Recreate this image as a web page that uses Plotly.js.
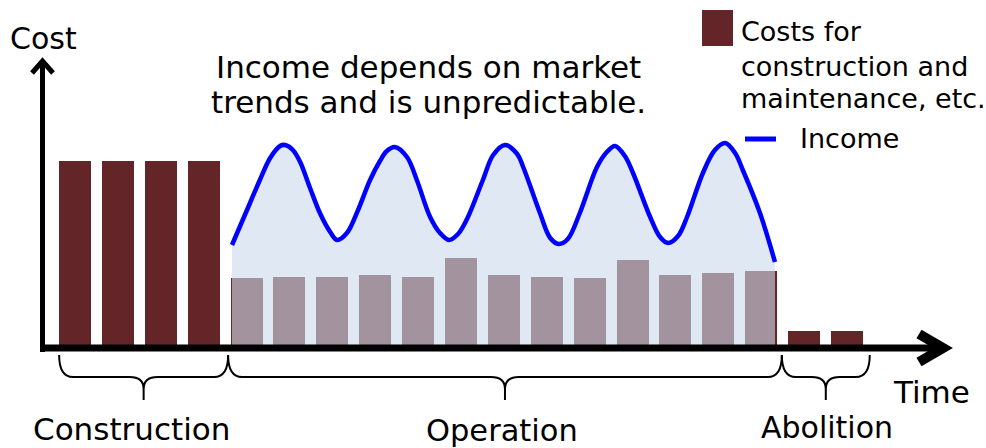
<!DOCTYPE html>
<html><head><meta charset="utf-8">
<script src="https://cdn.plot.ly/plotly-3.0.1.min.js"></script>
<style>html,body{margin:0;padding:0;background:#fff}#chart{width:986px;height:448px}</style>
</head><body><div id="chart"></div>
<script>
// ---- data ----
const phases = ['Construction', 'Operation', 'Abolition'];
const constructionCost = [184, 184, 184, 184];
const operationCost = [67, 68, 68, 70, 68, 87, 70, 68, 67, 85, 70, 72, 74];
const abolitionCost = [14, 14];
const incomeTime = [3.66, 4.08, 4.31, 4.55, 4.78, 4.90, 5.08, 5.25, 5.48, 5.71, 5.95, 6.11, 6.34, 6.58, 6.88,
  7.11, 7.27, 7.46, 7.74, 7.97, 8.28, 8.51, 8.72, 8.93, 9.14, 9.51, 9.75, 10.03, 10.31, 10.45, 10.84,
  11.08, 11.28, 11.49, 11.77, 12.17, 12.40, 12.59, 12.82, 13.01, 13.41, 13.64, 13.83, 14.06, 14.27,
  14.64, 14.92, 15.16, 15.39, 15.57, 15.97, 16.32];
const incomeValue = [100, 142, 165, 187, 199, 200, 195, 183, 157, 132, 113, 105, 112, 133, 165,
  184, 194, 198, 188, 165, 128, 112, 105, 111, 126, 165, 190, 200, 191, 178, 132,
  107, 101, 106, 132, 178, 193, 199, 189, 172, 128, 108, 102, 109, 128,
  172, 195, 202, 192, 175, 132, 83];
const costLegend = ['Costs for', 'construction and', 'maintenance, etc.'];
const incomeLegend = 'Income';
const titleLines = ['Income depends on market', 'trends and is unpredictable.'];
const yLabel = 'Cost';
const xLabel = 'Time';
const phaseBounds = [[-0.37, 3.57], [3.57, 16.48], [16.48, 18.53]];

// ---- layout helpers ----
const W = 986, H = 448, X0 = 75, DX = 42.89, Y0 = 345;
const cost = constructionCost.concat(operationCost, abolitionCost);
const periods = cost.map((_, i) => i);
const px = p => (p - X0) / DX;           // pixel x -> data x
const py = p => Y0 - p;                  // pixel y -> data y
const toPx = x => X0 + DX * x;
const P = (a, b) => px(a) + ',' + py(b);
const FONT = 'DejaVu Sans, Verdana, sans-serif';
const barColor = '#632528';

const traces = [
  {type: 'bar', x: periods, y: cost, width: 0.746, marker: {color: barColor, line: {width: 0}}, hoverinfo: 'skip', showlegend: false},
  {type: 'scatter', mode: 'lines', x: incomeTime, y: incomeValue, fill: 'tozeroy',
   fillcolor: 'rgba(204,217,235,0.61)', line: {color: '#0000FF', width: 4.5, shape: 'spline', smoothing: 1},
   hoverinfo: 'skip', showlegend: false}
];

const shapes = [];
function line(path, w, col) {
  shapes.push({type: 'path', xref: 'x', yref: 'y', path: path, line: {color: col || '#000', width: w}, layer: 'above'});
}
// axes with arrows
line('M' + P(42.5, 352) + ' L' + P(42.5, 64), 5);
line('M' + P(32, 73) + ' L' + P(42.5, 61) + ' L' + P(53, 73), 5);
line('M' + P(40, 348) + ' L' + P(938, 348), 7);
line('M' + P(919, 334) + ' L' + P(943, 348) + ' L' + P(919, 362), 10);
// braces
phaseBounds.forEach(([x1, x2]) => {
  const a = toPx(x1), b = toPx(x2), c = (a + b) / 2, top = 355, mid = 377, tip = 400, r = 14;
  line('M' + P(a, top) + ' Q' + P(a, mid) + ' ' + P(a + r, mid) + ' L' + P(c - r, mid) +
       ' Q' + P(c, mid) + ' ' + P(c, mid + 12) + ' L' + P(c, tip) +
       ' M' + P(c, mid + 12) + ' Q' + P(c, mid) + ' ' + P(c + r, mid) + ' L' + P(b - r, mid) +
       ' Q' + P(b, mid) + ' ' + P(b, top), 2);
});
// legend markers
shapes.push({type: 'rect', xref: 'x', yref: 'y', x0: px(702), x1: px(733), y0: py(46), y1: py(10), fillcolor: barColor, line: {width: 0}});
line('M' + P(745, 139) + ' L' + P(776, 139), 5, '#0000FF');

const annotations = [];
function txt(t, xp, yp, size, anchor) {
  annotations.push({text: t, xref: 'paper', yref: 'paper', x: xp / W, y: 1 - yp / H,
    xanchor: anchor || 'center', yanchor: 'middle', showarrow: false,
    font: {family: FONT, size: size, color: '#000'}});
}
txt(yLabel, 43, 39, 30);
txt(xLabel, 931, 392, 31);
txt(titleLines[0], 428, 67, 31);
txt(titleLines[1], 428, 102, 31);
txt(phases[0], toPx((phaseBounds[0][0] + phaseBounds[0][1]) / 2) - 12, 429, 31);
txt(phases[1], toPx((phaseBounds[1][0] + phaseBounds[1][1]) / 2) - 3, 430, 30.5);
txt(phases[2], toPx((phaseBounds[2][0] + phaseBounds[2][1]) / 2) + 1, 427, 30);
txt(costLegend[0], 739, 31, 27, 'left');
txt(costLegend[1], 739, 66, 27, 'left');
txt(costLegend[2], 739, 98, 27, 'left');
txt(incomeLegend, 798, 138, 27, 'left');

const layout = {
  width: W, height: H, autosize: false,
  margin: {l: 0, r: 0, t: 0, b: 0, pad: 0},
  paper_bgcolor: '#fff', plot_bgcolor: '#fff',
  xaxis: {range: [px(0), px(W)], visible: false, fixedrange: true},
  yaxis: {range: [py(H), py(0)], visible: false, fixedrange: true},
  bargap: 0, showlegend: false,
  shapes: shapes, annotations: annotations
};
Plotly.newPlot('chart', traces, layout, {displayModeBar: false, staticPlot: true});
</script></body></html>
